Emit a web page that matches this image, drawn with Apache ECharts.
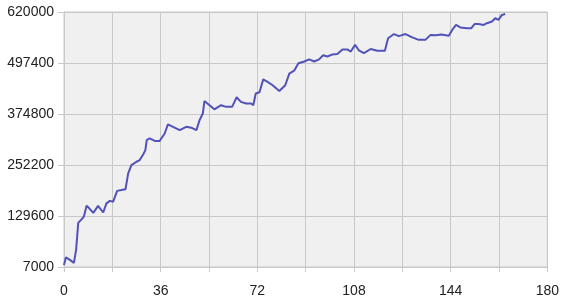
<!DOCTYPE html>
<html>
<head>
<meta charset="utf-8">
<script src="https://cdn.jsdelivr.net/npm/echarts@6/dist/echarts.min.js"></script>
<style>
html,body{margin:0;padding:0;background:#fff;}
#c{width:562px;height:301px;}
</style>
</head>
<body>
<div id="c"></div>
<script>
var xVals = [0,0.7,2.2,3.7,4.5,4.9,5.3,6.6,7.4,8.4,9.4,10.9,12.7,14.6,15.8,17.1,18.3,19.8,21.4,22.9,23.9,25.1,27,28.2,29.7,30.3,30.8,31.9,33.8,35.6,37.5,38.7,40.6,43.1,45.5,47.4,49.3,50.5,51.7,52.3,54.2,56,58.5,60.4,62.6,64.3,65.9,67.8,69.7,70.5,71.4,72.8,74.2,75.8,77.7,80.2,82.4,83.9,85.7,87.3,89.5,91.3,93.2,95,96.5,98.1,100,101.8,103.7,105.5,106.8,108.4,109.8,111.7,114.2,116.7,119.5,120.7,122.9,124.7,127.2,129.7,132.1,134.6,136.5,138.6,140.5,143.3,144.8,146,147.6,150.1,151.7,152.9,154.4,156.3,157.5,159.4,160.6,161.8,163.1,164.3];
var yVals = [12000,30000,24000,17000,48000,80000,113000,122000,128000,154000,148000,137000,154000,138000,160000,166000,164000,190000,192000,194000,232000,252000,260000,264000,280000,288000,312000,316000,310000,310000,328000,350000,344000,336000,344000,342000,336000,360000,376000,406000,396000,386000,396000,392000,392000,415000,404000,400000,400000,396000,424000,427000,458000,452000,444000,430000,444000,472000,479000,497000,501000,506000,501000,506000,516000,513000,518000,519000,530000,530000,525000,541000,528000,521000,531000,527000,527000,557000,567000,562000,567000,559000,553000,553000,565000,564000,566000,563000,579000,589000,583000,581000,581000,591000,591000,589000,593000,597000,605000,601000,613000,615000];
var yTicks = [7000,129600,252200,374800,497400,620000];
var xMin = 0, xMax = 180, xStep = 18, xLabelStep = 36;

var data = xVals.map(function(x,i){return [x, yVals[i]];});
var chart = echarts.init(document.getElementById('c'), null, {renderer:'canvas'});
var gridColor = '#c8c8c8';
var labelFont = {color:'#222', fontSize:14, fontFamily:'Liberation Sans, Arial, sans-serif'};
chart.setOption({
  animation:false,
  backgroundColor:'#ffffff',
  grid:{left:64, right:13, top:12, bottom:34, show:true, backgroundColor:'#f0f0f0', borderColor:gridColor, borderWidth:1},
  xAxis:{
    type:'value', min:xMin, max:xMax, interval:xStep,
    axisLine:{show:true, lineStyle:{color:gridColor}},
    axisTick:{show:true, length:5, lineStyle:{color:gridColor}},
    splitLine:{show:true, lineStyle:{color:gridColor, width:1}},
    axisLabel:Object.assign({margin:17, formatter:function(v){return (v % xLabelStep === 0) ? String(v) : '';}}, labelFont)
  },
  yAxis:{
    type:'value', min:yTicks[0], max:yTicks[yTicks.length-1],
    axisLine:{show:true, lineStyle:{color:gridColor}},
    axisTick:{show:true, length:6, lineStyle:{color:gridColor}, customValues:yTicks},
    splitLine:{show:true, lineStyle:{color:gridColor, width:1}},
    axisLabel:Object.assign({margin:10, customValues:yTicks, formatter:function(v){return String(v);}}, labelFont)
  },
  series:[{
    type:'line', data:data, showSymbol:false, symbol:'none',
    lineStyle:{color:'#5252b8', width:2}
  }]
});
</script>
</body>
</html>
